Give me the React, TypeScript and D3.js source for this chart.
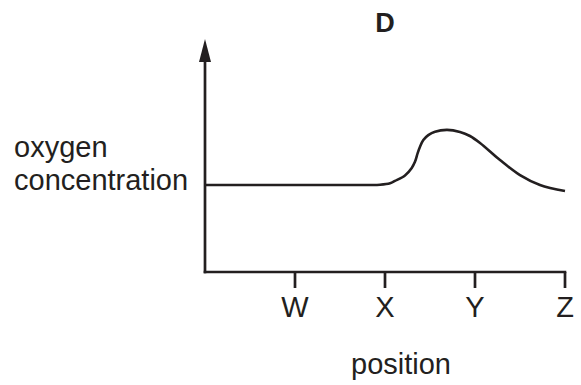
import React from "react";
import * as d3 from "d3";

const positions = [0, 1.0, 1.833, 1.944, 2.056, 2.111, 2.222, 2.297, 2.333, 2.363, 2.389, 2.426, 2.481, 2.556, 2.689, 2.833, 2.944, 3.056, 3.278, 3.5, 3.722, 4.0];
const oxygen = [3.0, 3.0, 3.0, 3.01, 3.06, 3.14, 3.33, 3.59, 3.8, 4.1, 4.32, 4.55, 4.72, 4.84, 4.9, 4.83, 4.69, 4.45, 3.86, 3.34, 3.0, 2.79];
const tickValues = [1, 2, 3, 4];
const tickLabels = ["W", "X", "Y", "Z"];
const title = "D";

const W = 581, H = 385;
const ink = "#231f20";
const font = "'Liberation Sans', Arial, sans-serif";

export default function App() {
  const x = d3.scaleLinear().domain([0, 4]).range([205, 565]);
  const y = d3.scaleLinear().domain([0, 8]).range([272, 40]);
  const line = d3
    .line<number>()
    .x((_, i) => x(positions[i]))
    .y((d) => y(d))
    .curve(d3.curveCatmullRom.alpha(0.5));
  const x0 = x(0), yb = y(0);
  const yTop = 39;
  return (
    <svg width={W} height={H} style={{ position: "absolute", left: 0, top: 0, background: "#fff" }}>
      <text x={x(2)} y={32} textAnchor="middle" fontFamily={font} fontWeight="bold" fontSize={27} fill={ink}>{title}</text>
      {/* y axis */}
      <line x1={x0} x2={x0} y1={yb + 1.3} y2={yTop + 20} stroke={ink} strokeWidth={2.7} />
      <path d={`M${x0},${yTop} L${x0 - 6},${yTop + 23} L${x0 + 6},${yTop + 23} Z`} fill={ink} />
      {/* x axis */}
      <line x1={x0 - 1.3} x2={x(4) + 1.3} y1={yb} y2={yb} stroke={ink} strokeWidth={2.7} />
      {tickValues.map((t, i) => (
        <g key={t}>
          <line x1={x(t)} x2={x(t)} y1={yb} y2={yb + 16} stroke={ink} strokeWidth={2.7} />
          <text x={x(t)} y={317} textAnchor="middle" fontFamily={font} fontSize={29} fill={ink}>{tickLabels[i]}</text>
        </g>
      ))}
      <path d={line(oxygen) || ""} fill="none" stroke={ink} strokeWidth={2.6} />
      <text x={14} y={157} fontFamily={font} fontSize={29} fill={ink}>oxygen</text>
      <text x={14} y={190} fontFamily={font} fontSize={29} fill={ink}>concentration</text>
      <text x={401} y={374} textAnchor="middle" fontFamily={font} fontSize={29} fill={ink}>position</text>
    </svg>
  );
}
